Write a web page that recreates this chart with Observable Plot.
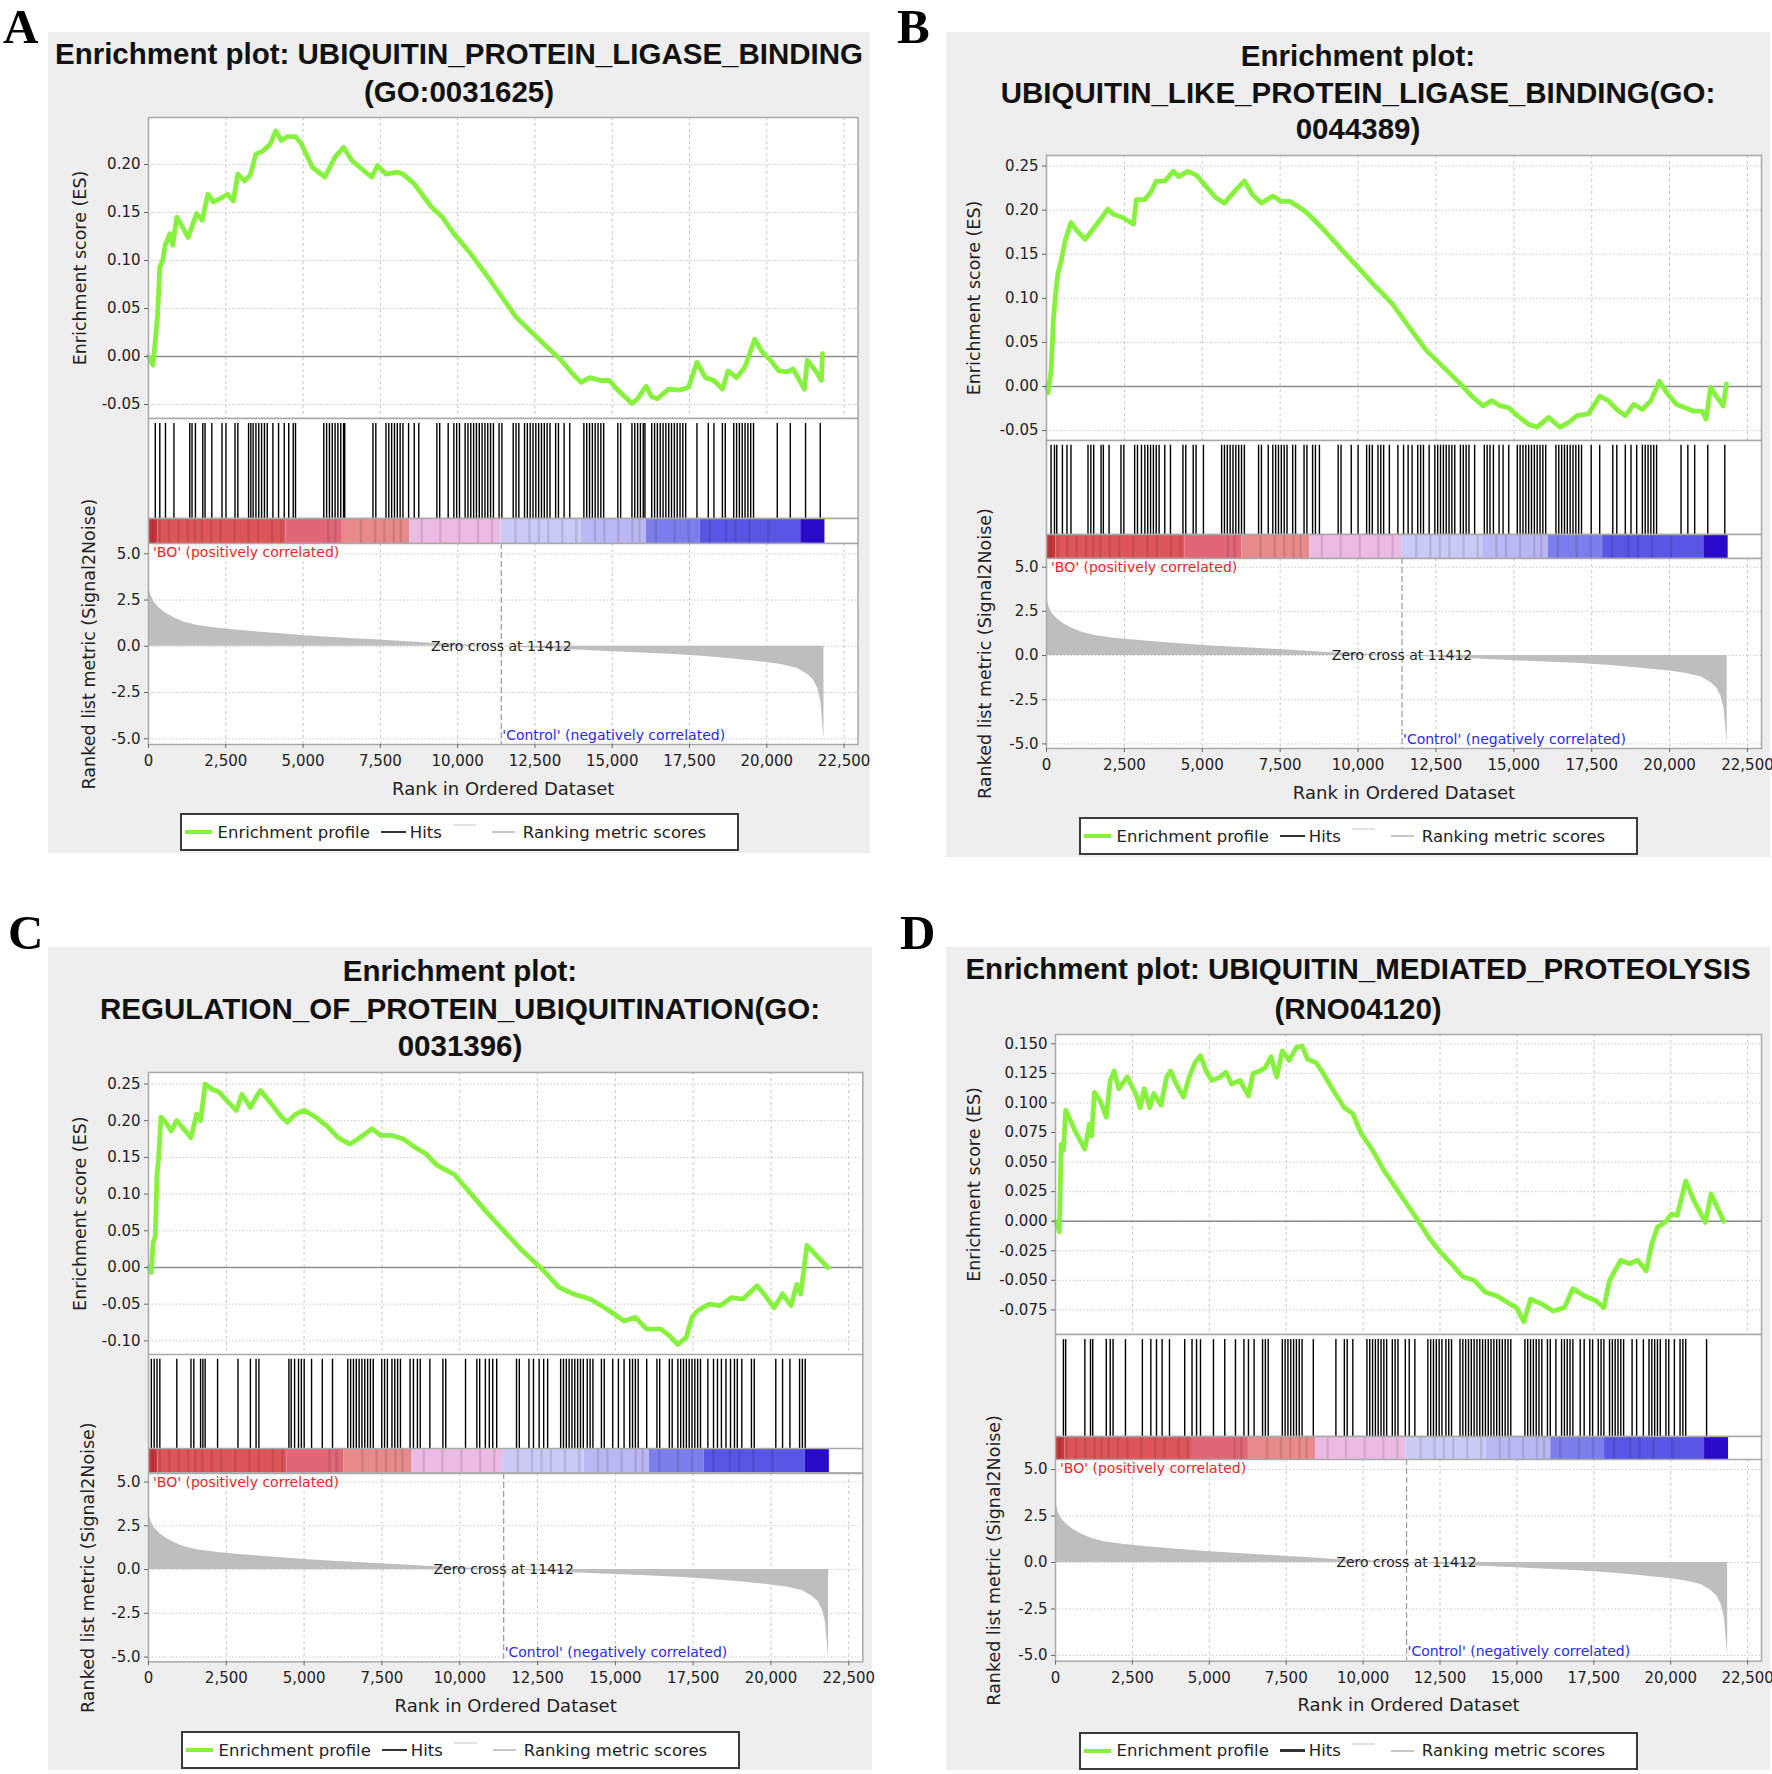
<!DOCTYPE html>
<html><head><meta charset="utf-8">
<script src="https://cdn.jsdelivr.net/npm/d3@7"></script>
<script src="https://cdn.jsdelivr.net/npm/@observablehq/plot@0.6"></script>
<style>
body{margin:0;background:#fff;width:1772px;height:1774px;position:relative;overflow:hidden;font-family:"DejaVu Sans",sans-serif}
.bg{position:absolute;background:#eeeeee}
.letter{position:absolute;font-family:"Liberation Serif","Times New Roman",serif;font-weight:bold;font-size:49px;line-height:1.107;color:#000}
.title{position:absolute;font-family:"Liberation Sans",Arial,sans-serif;font-weight:bold;font-size:29.5px;line-height:29.5px;white-space:nowrap;transform:translateX(-50%);color:#111}
.legend{position:absolute;background:#fff;border:2px solid #3a3a3a;box-sizing:border-box;display:flex;align-items:center;font-family:"DejaVu Sans",sans-serif;font-size:16.5px;color:#222;white-space:nowrap}
.sw{display:inline-block;flex:none}
</style>
</head><body>
<script>
// ---------------- data ----------------
const X_MAX = 22950;
const rankTicks = [0, 2500, 5000, 7500, 10000, 12500, 15000, 17500, 20000, 22500];
const metricTicks = [-5, -2.5, 0, 2.5, 5];
const zeroCross = 11412;
const panelLetters = ["A", "B", "C", "D"];
const titles = [
  ["Enrichment plot: UBIQUITIN_PROTEIN_LIGASE_BINDING", "(GO:0031625)"],
  ["Enrichment plot:", "UBIQUITIN_LIKE_PROTEIN_LIGASE_BINDING(GO:", "0044389)"],
  ["Enrichment plot:", "REGULATION_OF_PROTEIN_UBIQUITINATION(GO:", "0031396)"],
  ["Enrichment plot: UBIQUITIN_MEDIATED_PROTEOLYSIS", "(RNO04120)"]
];
const esLabel = "Enrichment score (ES)";
const rankLabel = "Ranked list metric (Signal2Noise)";
const xTitle = "Rank in Ordered Dataset";
const posLabel = "'BO' (positively correlated)";
const negLabel = "'Control' (negatively correlated)";
const zeroLabel = "Zero cross at 11412";
const legendLabels = ["Enrichment profile", "Hits", "", "Ranking metric scores"];

const esTicksA = [-0.05, 0, 0.05, 0.10, 0.15, 0.20];
const esTicksB = [-0.05, 0, 0.05, 0.10, 0.15, 0.20, 0.25];
const esTicksC = [-0.10, -0.05, 0, 0.05, 0.10, 0.15, 0.20, 0.25];
const esTicksD = [-0.075, -0.05, -0.025, 0, 0.025, 0.05, 0.075, 0.10, 0.125, 0.150];

// running enrichment score [rank, ES]
const esA = [[0,0],[146,-0.009],[220,0.017],[290,0.041],[366,0.093],[457,0.100],[549,0.117],[695,0.128],[786,0.116],[915,0.145],[1097,0.135],[1280,0.124],[1555,0.149],[1738,0.142],[1920,0.169],[2103,0.161],[2286,0.164],[2560,0.169],[2743,0.162],[2890,0.190],[3109,0.183],[3292,0.189],[3475,0.211],[3695,0.214],[3932,0.221],[4115,0.235],[4298,0.225],[4481,0.229],[4755,0.229],[4938,0.222],[5304,0.197],[5707,0.187],[6036,0.208],[6310,0.218],[6584,0.204],[6950,0.194],[7224,0.187],[7407,0.199],[7682,0.190],[8048,0.192],[8231,0.190],[8596,0.180],[9145,0.156],[9511,0.145],[9877,0.128],[10425,0.107],[10974,0.083],[11523,0.058],[11889,0.041],[12437,0.024],[12894,0.010],[13352,-0.004],[13718,-0.018],[13992,-0.027],[14266,-0.022],[14632,-0.025],[14906,-0.025],[15181,-0.035],[15638,-0.049],[15821,-0.044],[16095,-0.031],[16278,-0.042],[16461,-0.044],[16827,-0.034],[17193,-0.035],[17467,-0.032],[17741,-0.006],[18016,-0.022],[18290,-0.025],[18564,-0.034],[18747,-0.015],[19022,-0.022],[19296,-0.011],[19607,0.018],[19845,0.005],[20119,-0.004],[20394,-0.015],[20668,-0.016],[20851,-0.013],[21217,-0.034],[21308,-0.004],[21583,-0.015],[21766,-0.025],[21800,0.003]];
const esB = [[0,0],[55,-0.007],[146,0.018],[219,0.075],[292,0.105],[365,0.128],[474,0.143],[602,0.166],[785,0.186],[967,0.177],[1241,0.167],[1460,0.177],[1697,0.188],[1971,0.201],[2154,0.195],[2427,0.192],[2792,0.184],[2884,0.212],[3157,0.212],[3340,0.220],[3522,0.233],[3796,0.233],[4070,0.244],[4252,0.238],[4526,0.244],[4800,0.240],[5073,0.229],[5438,0.214],[5712,0.208],[6077,0.223],[6351,0.233],[6625,0.217],[6898,0.208],[7263,0.216],[7537,0.210],[7811,0.210],[8085,0.204],[8358,0.197],[8815,0.181],[9453,0.156],[10001,0.135],[10549,0.114],[11096,0.094],[11644,0.067],[12191,0.041],[12739,0.022],[13286,0.003],[13651,-0.011],[14016,-0.022],[14290,-0.016],[14564,-0.022],[14837,-0.024],[15111,-0.033],[15476,-0.043],[15750,-0.046],[16115,-0.035],[16480,-0.046],[16754,-0.041],[17027,-0.033],[17392,-0.031],[17757,-0.011],[18031,-0.016],[18305,-0.026],[18579,-0.033],[18852,-0.020],[19126,-0.026],[19400,-0.016],[19674,0.006],[19948,-0.009],[20221,-0.020],[20495,-0.024],[20769,-0.028],[21043,-0.028],[21170,-0.037],[21316,-0.001],[21499,-0.011],[21718,-0.022],[21827,0.003]];
const esC = [[0,0],[91,-0.007],[146,0.034],[218,0.043],[273,0.127],[327,0.150],[400,0.205],[546,0.198],[728,0.186],[910,0.200],[1128,0.189],[1364,0.177],[1546,0.209],[1673,0.200],[1819,0.250],[2037,0.243],[2274,0.239],[2456,0.230],[2820,0.214],[3001,0.236],[3274,0.218],[3456,0.232],[3602,0.241],[3911,0.225],[4275,0.205],[4457,0.198],[4729,0.209],[5002,0.214],[5366,0.205],[5730,0.193],[6094,0.177],[6458,0.168],[6730,0.175],[7185,0.189],[7458,0.180],[7822,0.180],[8186,0.175],[8549,0.164],[8913,0.155],[9277,0.139],[9823,0.127],[10368,0.100],[10914,0.073],[11460,0.048],[12005,0.023],[12642,-0.002],[13188,-0.027],[13643,-0.036],[14188,-0.043],[14734,-0.057],[15280,-0.073],[15643,-0.068],[16007,-0.084],[16462,-0.084],[16735,-0.093],[17008,-0.105],[17281,-0.095],[17462,-0.068],[17644,-0.059],[18008,-0.050],[18372,-0.052],[18736,-0.041],[19100,-0.043],[19554,-0.025],[19827,-0.039],[20100,-0.055],[20373,-0.036],[20646,-0.052],[20828,-0.023],[20955,-0.036],[21064,0],[21155,0.030],[21464,0.016],[21828,0]];
const esD = [[0,0],[128,-0.009],[183,0.065],[257,0.060],[330,0.094],[440,0.088],[679,0.074],[954,0.061],[1100,0.082],[1174,0.072],[1265,0.109],[1467,0.101],[1651,0.088],[1779,0.119],[1907,0.127],[2054,0.112],[2329,0.122],[2604,0.108],[2751,0.096],[2879,0.112],[3063,0.096],[3191,0.108],[3430,0.098],[3613,0.122],[3741,0.127],[3925,0.116],[4163,0.105],[4347,0.122],[4530,0.134],[4713,0.140],[4897,0.127],[5080,0.119],[5355,0.122],[5539,0.126],[5722,0.116],[5997,0.119],[6272,0.106],[6419,0.125],[6639,0.127],[6822,0.130],[7006,0.139],[7189,0.122],[7373,0.144],[7593,0.136],[7831,0.147],[8015,0.148],[8198,0.137],[8473,0.134],[8657,0.127],[9023,0.111],[9390,0.096],[9665,0.091],[9940,0.074],[10307,0.060],[10674,0.043],[11041,0.029],[11407,0.015],[11774,0.001],[12141,-0.014],[12508,-0.026],[12875,-0.036],[13241,-0.047],[13608,-0.050],[13975,-0.060],[14342,-0.063],[14709,-0.069],[14984,-0.073],[15223,-0.085],[15442,-0.066],[15809,-0.070],[16176,-0.076],[16543,-0.073],[16818,-0.057],[17185,-0.063],[17551,-0.067],[17826,-0.073],[18010,-0.050],[18377,-0.033],[18652,-0.036],[18927,-0.033],[19202,-0.042],[19385,-0.019],[19568,-0.005],[19807,-0.001],[20027,0.006],[20210,0.005],[20486,0.034],[20761,0.017],[21128,-0.001],[21311,0.023],[21720,0]];

// gene-set hit positions (rank)
const hitsA = [219,366,549,823,1335,1408,1518,1756,1829,2048,2378,2506,2798,2890,3237,3310,3384,3475,3567,3658,3750,3841,4024,4207,4390,4536,4682,4755,5670,5761,5853,5944,6036,6127,6219,6310,6347,7261,7353,7682,7773,7865,7956,8048,8139,8231,8413,8596,8743,9328,9419,9694,9877,9968,10060,10242,10334,10425,10517,10608,10700,10791,10883,10974,11065,11157,11340,11431,11797,11889,11980,12163,12254,12346,12437,12529,12620,12712,12803,12894,12986,13169,13260,13443,13626,14083,14175,14266,14358,14449,14541,14632,14723,15181,15272,15638,15729,15821,15912,16004,16059,16278,16370,16461,16553,16644,16735,16827,16918,17010,17101,17193,17284,17376,17741,18107,18290,18564,18656,18930,19022,19113,19205,19296,19388,19479,19571,20339,20760,21254,21729];
const hitsB = [146,256,329,511,657,785,1332,1424,1515,1752,1825,2008,2391,2482,2829,2920,3048,3157,3249,3340,3431,3522,3614,3796,3979,4380,4471,4709,4800,5037,5621,5712,5804,5895,5986,6077,6169,6260,6351,6807,6899,7118,7264,7355,7446,7537,7629,7720,7902,7994,8267,8359,8541,8632,8760,9362,9454,9782,10001,10275,10366,10457,10640,10731,10822,11005,11279,11461,11607,11735,11917,12009,12100,12282,12465,12556,12647,12739,12830,12921,13012,13104,13286,13377,13469,13560,13742,14053,14144,14235,14345,14527,14655,14837,15111,15202,15294,15385,15476,15567,15659,15750,15841,15932,16024,16352,16443,16535,16626,16717,16808,16900,16991,17082,17173,17484,17757,18177,18305,18579,18761,18944,19126,19217,19309,19400,19491,19582,20367,20586,20805,21225,21772];
const hitsC = [91,182,273,364,910,1364,1455,1673,1746,1819,2219,2874,3274,3456,3547,4511,4584,4693,4820,4911,5002,5239,5584,5912,6403,6494,6585,6676,6767,6858,6949,7040,7130,7221,7494,7585,7676,7822,7913,8004,8095,8404,8513,8640,8731,9040,9459,9550,10186,10550,10641,10823,10950,11060,11187,11824,11914,12224,12369,12551,12697,12824,13242,13333,13424,13515,13606,13697,13788,13879,13970,14097,14188,14279,14552,14643,14916,15098,15280,15462,15552,15643,15734,16007,16335,16425,16735,16826,17008,17099,17190,17281,17372,17462,17553,17644,17735,17972,18154,18281,18408,18554,18700,18827,18918,19063,19372,19463,20155,20373,20609,20919,21009,21100];
const hitsD = [257,330,954,1137,1210,1651,1779,1871,2274,2824,3099,3283,3466,3705,4200,4438,4585,4713,5135,5502,5850,6126,6272,6456,6731,6822,6914,7373,7464,7556,7648,7740,7831,7923,8015,8381,9115,9390,9482,9665,10124,10215,10307,10399,10490,10582,10674,10765,10949,11040,11132,11371,11499,11682,12104,12196,12287,12379,12471,12563,12691,12783,12874,13150,13241,13333,13425,13516,13608,13700,13792,13883,13975,14067,14158,14250,14342,14433,14525,14617,14709,14800,15259,15350,15442,15534,15626,15717,15809,15992,16084,16267,16451,16543,16634,16726,16818,17056,17185,17368,17460,17643,17735,17826,18010,18102,18193,18285,18377,18468,18743,18890,19110,19293,19385,19477,19568,19660,19843,19935,20118,20302,20394,20486,21164];

// ranked list metric (shared dataset)
const metricRank  = [0, 27, 81, 189, 350, 566, 836, 1159, 1591, 2239, 2993, 4071, 5150, 6228, 7306, 8385, 9140, 10000, 10800, 11412, 12000, 13000, 14000, 15000, 16000, 17000, 18000, 19000, 20000, 20500, 21000, 21300, 21500, 21650, 21750, 21800, 21850];
const metricValue = [4.45, 3.1, 2.74, 2.38, 2.07, 1.79, 1.53, 1.30, 1.12, 0.97, 0.85, 0.70, 0.56, 0.45, 0.35, 0.24, 0.16, 0.10, 0.04, 0, -0.06, -0.13, -0.21, -0.29, -0.36, -0.44, -0.55, -0.70, -0.88, -1.0, -1.2, -1.5, -1.8, -2.3, -3.0, -4.0, -5.0];

// heat-map colour bar
const barStart = [0, 300, 4450, 6270, 8450, 11400, 14000, 16100, 17850, 21100];
const barEnd   = [300, 4450, 6270, 8450, 11400, 14000, 16100, 17850, 21100, 21880];
const barColor = ["#c8363b", "#dd555a", "#e06678", "#e68a8c", "#ecbbe3", "#cacaf5", "#bbb7f2", "#7d7deb", "#5a55e4", "#280ac8"];
const stripeRanks = [136,363,665,968,1271,1498,1725,2028,2331,2785,3239,3542,3996,4299,5813,6040,6873,7327,7630,7933,8160,8841,9443,10052,10658,11112,11869,12323,12626,12929,13383,13837,14443,14746,15200,15654,15881,16411,17017,17471,18152,18682,18985,19439,20045];

// ---------------- layout (pixels) ----------------
const layout = [
  {bg:[48,32,870,853], letter:[3,44], titleY:[53,91], frameL:147.5, frameR:857, esTop:117, esBot:418, hitsBot:518, barBot:543, rankBot:744, esDomain:[-0.0646,0.249], rankDomain:[-5.31,5.557], legendTop:813, esDx:-68, rankDx:-59.5},
  {bg:[946,32,1770,857], letter:[897,44], titleY:[55,92,128], frameL:1046, frameR:1761, esTop:155, esBot:440, hitsBot:534, barBot:558, rankBot:748, esDomain:[-0.0612,0.262], rankDomain:[-5.26,5.49], legendTop:817, esDx:-72, rankDx:-61},
  {bg:[48,947,872,1770], letter:[8,950], titleY:[970,1008,1045], frameL:147.7, frameR:862, esTop:1071.7, esBot:1354, hitsBot:1448.3, barBot:1472.7, rankBot:1661, esDomain:[-0.119,0.2657], rankDomain:[-5.27,5.486], legendTop:1731, esDx:-68, rankDx:-60},
  {bg:[946,947,1770,1770], letter:[900,950], titleY:[968,1008], frameL:1055, frameR:1761, esTop:1034, esBot:1334, hitsBot:1436, barBot:1459.3, rankBot:1661, esDomain:[-0.0958,0.1579], rankDomain:[-5.31,5.54], legendTop:1731.7, esDx:-81, rankDx:-61}
];

const fmt = n => d => d.toFixed(n);
const esData = [esA, esB, esC, esD];
const esTicks = [esTicksA, esTicksB, esTicksC, esTicksD];
const esFmt = [fmt(2), fmt(2), fmt(2), fmt(3)];
const hitsAll = [hitsA, hitsB, hitsC, hitsD];
const metric = metricRank.map((r, i) => ({r, v: metricValue[i]}));
const bars = barStart.map((s, i) => ({s, e: barEnd[i], c: barColor[i]}));

const FRAME = "#a9a9a9";
const GRID = "#c9c9c9";
const ML = 112;

function place(node, left, top) {
  node.style.position = "absolute";
  node.style.left = left + "px";
  node.style.top = top + "px";
  document.body.appendChild(node);
  return node;
}
const baseStyle = {overflow: "visible", background: "transparent", fontFamily: "DejaVu Sans, sans-serif", color: "#222"};

function buildPanel(i) {
  const L = layout[i];
  const bg = document.createElement("div");
  bg.className = "bg";
  bg.style.width = (L.bg[2] - L.bg[0]) + "px";
  bg.style.height = (L.bg[3] - L.bg[1]) + "px";
  place(bg, L.bg[0], L.bg[1]);

  const lt = document.createElement("div");
  lt.className = "letter";
  lt.textContent = panelLetters[i];
  place(lt, L.letter[0], L.letter[1] - 43.7);

  const cx = (L.bg[0] + L.bg[2]) / 2;
  titles[i].forEach((t, k) => {
    const d = document.createElement("div");
    d.className = "title";
    d.textContent = t;
    place(d, cx, L.titleY[k] - 14.3);
  });

  const W = L.frameR - L.frameL;
  const xOpt = {domain: [0, X_MAX], axis: null, label: null};

  // Enrichment score panel
  const es = esData[i].map(([r, v]) => ({r, v}));
  const esPlot = Plot.plot({
    width: W + ML, height: L.esBot - L.esTop,
    marginLeft: ML, marginRight: 0, marginTop: 0, marginBottom: 0,
    style: baseStyle,
    x: xOpt,
    y: {domain: L.esDomain, label: null},
    marks: [
      Plot.frame({fill: "white", stroke: null}),
      Plot.gridX(rankTicks, {stroke: GRID, strokeOpacity: 1, strokeDasharray: "3,3"}),
      Plot.gridY(esTicks[i], {stroke: GRID, strokeOpacity: 1, strokeDasharray: "1.5,2"}),
      Plot.ruleY([0], {stroke: "#8c8c8c", strokeWidth: 1.6}),
      Plot.line(es, {x: "r", y: "v", stroke: "#86f23e", strokeWidth: 4.8, strokeLinejoin: "round", strokeLinecap: "round"}),
      Plot.frame({stroke: FRAME, strokeWidth: 1.5}),
      Plot.axisY(esTicks[i], {tickFormat: esFmt[i], tickSize: 4, tickPadding: 4, fontSize: 15, label: null, stroke: "#666"}),
      Plot.text([esLabel], {text: d => d, frameAnchor: "left", textAnchor: "middle", lineAnchor: "middle", rotate: -90, dx: L.esDx, fontSize: 17.5, fill: "#222"})
    ]
  });
  place(esPlot, L.frameL - ML, L.esTop);

  // Hits panel
  const hitsPlot = Plot.plot({
    width: W + ML, height: L.hitsBot - L.esBot,
    marginLeft: ML, marginRight: 0, marginTop: 0, marginBottom: 0,
    style: baseStyle,
    x: xOpt,
    y: {domain: [0, 1], axis: null, label: null},
    marks: [
      Plot.frame({fill: "white", stroke: null}),
      Plot.ruleX(hitsAll[i], {x: d => d, y1: 0, y2: 0.95, stroke: "#000", strokeWidth: 1.4}),
      Plot.frame({stroke: FRAME, strokeWidth: 1.5})
    ]
  });
  place(hitsPlot, L.frameL - ML, L.esBot);

  // colour bar
  const barPlot = Plot.plot({
    width: W + ML, height: L.barBot - L.hitsBot,
    marginLeft: ML, marginRight: 0, marginTop: 0, marginBottom: 0,
    style: baseStyle,
    x: xOpt,
    y: {domain: [0, 1], axis: null, label: null},
    color: {type: "identity"},
    marks: [
      Plot.frame({fill: "white", stroke: null}),
      Plot.rect(bars, {x1: "s", x2: "e", y1: 0, y2: 1, fill: "c"}),
      Plot.ruleX(stripeRanks, {x: d => d, y1: 0, y2: 1, stroke: "#000", strokeOpacity: 0.1, strokeWidth: 2.5}),
      Plot.frame({stroke: FRAME, strokeWidth: 1.5})
    ]
  });
  place(barPlot, L.frameL - ML, L.hitsBot);

  // ranked list metric panel
  const MB = 62;
  const rankPlot = Plot.plot({
    width: W + ML, height: L.rankBot - L.barBot + MB,
    marginLeft: ML, marginRight: 0, marginTop: 0, marginBottom: MB,
    style: baseStyle,
    x: {domain: [0, X_MAX], label: null},
    y: {domain: L.rankDomain, label: null},
    marks: [
      Plot.frame({fill: "white", stroke: null}),
      Plot.gridX(rankTicks, {stroke: GRID, strokeOpacity: 1, strokeDasharray: "3,3"}),
      Plot.gridY(metricTicks, {stroke: GRID, strokeOpacity: 1, strokeDasharray: "1.5,2"}),
      Plot.areaY(metric, {x: "r", y: "v", fill: "#bebebe"}),
      Plot.ruleX([zeroCross], {stroke: "#9a9a9a", strokeWidth: 1.2, strokeDasharray: "6,3"}),
      Plot.text([zeroLabel], {text: d => d, x: zeroCross, y: 0, fontSize: 14, fill: "#222"}),
      Plot.text([posLabel], {text: d => d, frameAnchor: "top-left", dx: 4.5, dy: 3.5, fontSize: 14, fill: "#e22a2a", textAnchor: "start", lineAnchor: "top"}),
      Plot.text([negLabel], {text: d => d, x: zeroCross, frameAnchor: "bottom", dx: 1, dy: -5, fontSize: 14, fill: "#2a2ae8", textAnchor: "start", lineAnchor: "bottom"}),
      Plot.frame({stroke: FRAME, strokeWidth: 1.5}),
      Plot.axisY(metricTicks, {tickFormat: fmt(1), tickSize: 4, tickPadding: 4, fontSize: 15, label: null, stroke: "#666"}),
      Plot.axisX(rankTicks, {tickFormat: d3.format(","), tickSize: 4, tickPadding: 7, fontSize: 15, label: null, stroke: "#666"}),
      Plot.text([xTitle], {text: d => d, frameAnchor: "bottom", textAnchor: "middle", dy: 44.5, lineAnchor: "middle", fontSize: 18, fill: "#222"}),
      Plot.text([rankLabel], {text: d => d, frameAnchor: "left", textAnchor: "middle", lineAnchor: "middle", rotate: -90, dx: L.rankDx, fontSize: 17.5, fill: "#222"})
    ]
  });
  place(rankPlot, L.frameL - ML, L.barBot);

  // legend
  const lg = document.createElement("div");
  lg.className = "legend";
  lg.style.width = "559px";
  lg.style.height = "38px";
  const swatches = [
    {h: 4, w: 27, c: "#86f23e", raise: 0, before: 3, after: 6},
    {h: 2.5, w: 25, c: "#333", raise: 0, before: 11, after: 4},
    {h: 2, w: 23, c: "#e3e3e3", raise: 7, before: 11, after: 0},
    {h: 2, w: 23, c: "#c6c6c6", raise: 0, before: 16, after: 8}
  ];
  legendLabels.forEach((lab, k) => {
    const s = swatches[k];
    const sw = document.createElement("span");
    sw.className = "sw";
    sw.style.width = s.w + "px";
    sw.style.height = s.h + "px";
    sw.style.background = s.c;
    sw.style.marginLeft = s.before + "px";
    sw.style.marginRight = s.after + "px";
    sw.style.position = "relative";
    sw.style.top = (-s.raise) + "px";
    lg.appendChild(sw);
    if (lab) {
      const t = document.createElement("span");
      t.textContent = lab;
      lg.appendChild(t);
    }
  });
  place(lg, cx - 279.5, L.legendTop);
}

for (let i = 0; i < 4; i++) buildPanel(i);
</script>
</body></html>
